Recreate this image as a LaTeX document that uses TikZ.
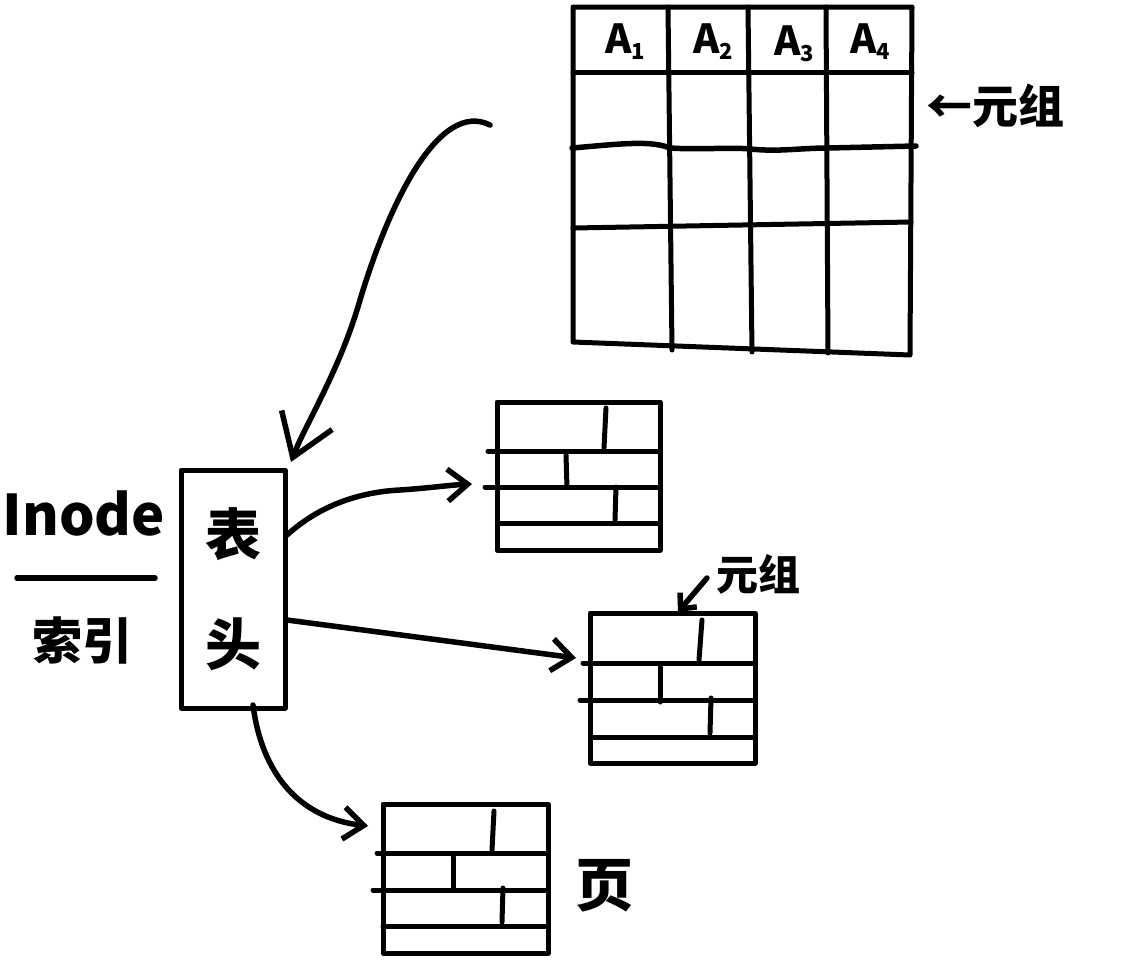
\documentclass[tikz,border=0pt]{standalone}
\usepackage{fontspec}
\setmainfont{Noto Sans CJK SC}
\usetikzlibrary{arrows.meta}
\begin{document}
\begin{tikzpicture}[x=1pt,y=-1pt,
  ink/.style={line width=5.5pt,line cap=round,line join=round},
  thin ink/.style={line width=5pt,line cap=round,line join=round},
  bighead/.style={-{Straight Barb[length=40pt,width=54pt]}},
  midhead/.style={-{Straight Barb[length=20pt,width=32pt]}},
  smallhead/.style={-{Straight Barb[length=12pt,width=22pt]}},
  pagebox/.style={draw,thin ink,inner sep=0pt},
  lbl/.style={inner sep=0pt,font=\bfseries},
]
\useasboundingbox (0,0) rectangle (1125,978);
\fill[white] (0,0) rectangle (1125,978);

% ---------- big relation table ----------
\draw[thin ink] (573,7) -- (912,7) -- (910,355) -- (573,342) -- cycle;
\draw[thin ink] (573,72) -- (912,72);
\draw[ink] (572,148) .. controls (620,144) and (650,140) .. (670,148)
  .. controls (700,150) and (730,147) .. (750,149)
  .. controls (780,152) and (800,148) .. (828,148) -- (916,146);
\draw[thin ink] (573,228) -- (911,222);
\draw[thin ink] (668,7) -- (672,350);
\draw[thin ink] (748,7) -- (752,352);
\draw[thin ink] (826,7) -- (828,353);
\node[lbl] (a1) at (625,42) {\fontsize{40}{44}\selectfont A\raisebox{-6pt}{\fontsize{22}{24}\selectfont 1}};
\node[lbl] (a2) at (713,42) {\fontsize{40}{44}\selectfont A\raisebox{-6pt}{\fontsize{22}{24}\selectfont 2}};
\node[lbl] (a3) at (794,44) {\fontsize{40}{44}\selectfont A\raisebox{-6pt}{\fontsize{22}{24}\selectfont 3}};
\node[lbl] (a4) at (870,42) {\fontsize{40}{44}\selectfont A\raisebox{-6pt}{\fontsize{22}{24}\selectfont 4}};
\node[lbl,anchor=west] (tup1) at (926,106) {\fontsize{46}{50}\selectfont ←元组};

% ---------- left labels ----------
\node[lbl] (inode) at (84,514) {\fontsize{56}{60}\selectfont Inode};
\node[lbl] (idx) at (82,640) {\fontsize{50}{54}\selectfont 索引};
\draw[ink] (17,578) -- (155,578);

% ---------- header box ----------
\node[draw,thin ink,minimum width=104pt,minimum height=238pt,inner sep=0pt,
      align=center,font=\bfseries\fontsize{56}{110}\selectfont] (hb) at (233,589)
  {表\\头};

% ---------- page 1 ----------
\node[pagebox,minimum width=163pt,minimum height=148pt] (p1) at (578.5,476) {};
\draw[thin ink] (488,451) -- (660,451);
\draw[thin ink] (485,487) -- (658,487);
\draw[thin ink] (498,523) -- (658,523);
\draw[thin ink] (606,408) -- (604,448);
\draw[thin ink] (566,455) -- (567,487);
\draw[thin ink] (616,487) -- (615,520);

% ---------- page 2 ----------
\node[pagebox,minimum width=165pt,minimum height=150pt] (p2) at (672.5,688) {};
\draw[thin ink] (583,663) -- (755,663);
\draw[thin ink] (580,700) -- (755,700);
\draw[thin ink] (592,737) -- (755,737);
\draw[thin ink] (702,620) -- (699,660);
\draw[thin ink] (660,667) -- (660,702);
\draw[thin ink] (711,698) -- (710,733);
\node[lbl,anchor=west] (tup2) at (716,574) {\fontsize{42}{46}\selectfont 元组};
\coordinate (t2s) at (707,578);
\coordinate (t2e) at (678,612);
\draw[ink,smallhead] (t2s) -- (t2e);

% ---------- page 3 ----------
\node[pagebox,minimum width=165pt,minimum height=149pt] (p3) at (465.5,878.5) {};
\draw[thin ink] (377,853) -- (548,853);
\draw[thin ink] (373,890) -- (548,890);
\draw[thin ink] (383,926) -- (548,926);
\draw[thin ink] (494,811) -- (492,850);
\draw[thin ink] (453,857) -- (453,890);
\draw[thin ink] (503,888) -- (502,922);
\node[lbl] (pg) at (604,886) {\fontsize{58}{62}\selectfont 页};

% ---------- arrows ----------
\coordinate (tabsrc) at (490,125);
\coordinate (hbtop) at (291,462);
\draw[ink,bighead] (tabsrc) .. controls (440,100) and (390,200) .. (360,300)
  .. controls (340,370) and (305,425) .. (hbtop);

\coordinate (e1) at (287,535);
\coordinate (t1) at (472,484);
\draw[ink,midhead] (e1) .. controls (320,505) and (360,492) .. (400,490)
  .. controls (430,488) and (450,485) .. (t1);

\coordinate (e2) at (287,620);
\coordinate (t2) at (576,658);
\draw[ink,midhead] (e2) -- (t2);

\coordinate (e3) at (253,705);
\coordinate (t3) at (368,826);
\draw[ink,midhead] (e3) .. controls (262,775) and (300,818) .. (t3);
\end{tikzpicture}
\end{document}
